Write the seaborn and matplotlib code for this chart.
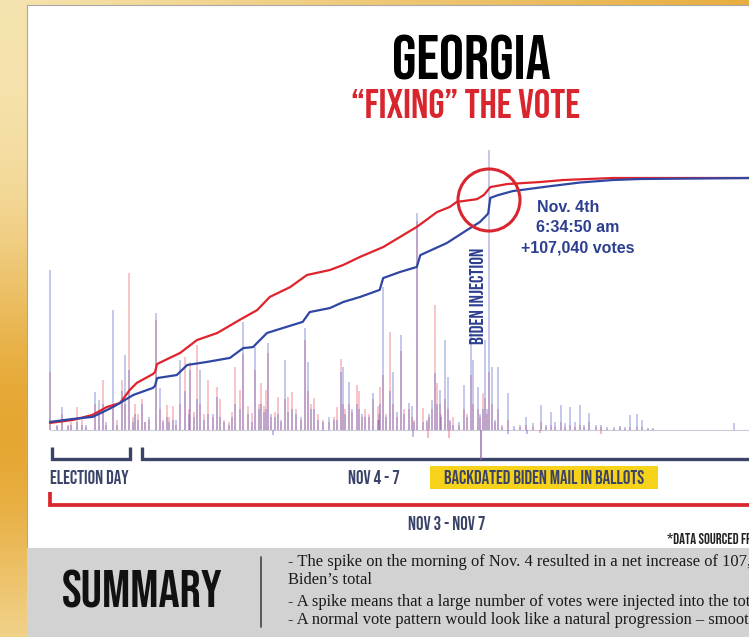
import numpy as np
import matplotlib
matplotlib.use('Agg')
import matplotlib.pyplot as plt
import seaborn as sns
from matplotlib import font_manager as fm
from matplotlib.patches import Rectangle, Circle
from matplotlib.lines import Line2D

# --- data ------------------------------------------------------------------
# x = batch index (0..100), cumulative share of each candidate's final count (%)
red_t = [0, 3.3, 6.1, 8.1, 10, 11.4, 12.4, 14.7, 15.0, 15.3, 18.6, 21, 23.9, 27.1, 29.6, 31.4,
         34.3, 36.7, 40, 41.9, 44.3, 47.6, 50, 52.4, 55.3, 57.1, 58.1, 61, 62.0, 62.9, 65.3,
         70, 73.3, 80.4, 99.9]
red_share = [2.8, 4.0, 6.0, 9.1, 10.7, 15.9, 18.7, 22.2, 23.0, 26.2, 30.6, 35.7, 38.5, 43.7, 47.6, 52.8,
             56.7, 61.5, 63.5, 65.5, 68.7, 72.6, 76.6, 80.6, 86.5, 88.5, 90.5, 91.6, 93.3, 96.4, 97.6,
             98.4, 99.2, 100, 100]
blue_t = [0, 3.3, 6.1, 9, 11.9, 14.7, 15.0, 15.3, 18.1, 19.6, 22.4, 25.7, 27.6, 29, 31, 33.3, 36.1,
          37.1, 40, 41.9, 44.3, 47.1, 47.6, 50, 52.4, 52.9, 56.7, 59.6, 61.4, 62.4, 62.6, 62.9,
          64, 66.1, 71, 75.7, 80.4, 84.3, 99.9]
blue_share = [3.2, 4.4, 5.2, 9.1, 13.9, 16.7, 17.5, 20.6, 21.8, 25.8, 27.0, 28.6, 32.5, 32.9, 38.5, 40.5,
              42.9, 46.8, 48.4, 50.8, 52.8, 55.6, 60.3, 62.7, 64.7, 69.4, 74.2, 79.4, 82.5, 85.3, 86.0,
              92.1, 93.2, 94.8, 96.6, 98.2, 99.2, 99.6, 100]

# votes per reported batch (thousands): position, Biden, Trump
batch_t = [0, 1.7, 3.9, 4.6, 6.4, 7.0, 7.6, 9.0, 10.3, 10.7, 11.3, 12.1, 13.1, 15.1, 15.7, 16.7,
           17.6, 18.6, 19.3, 20.0, 21.0, 21.4, 22.6, 23.9, 24.3, 26.4, 27.1, 27.6, 28.9, 29.3,
           30.1, 30.9, 31.1, 32.6, 33.6, 34.0, 34.6, 36.4, 36.9, 37.7, 41.0, 41.6, 41.9, 42.7,
           43.9, 44.1, 45.0, 46.1, 46.9, 47.1, 47.6, 48.6, 49.0, 50.1, 51.3, 51.7, 52.4, 53.3,
           54.6, 55.0, 55.3, 55.7, 56.4, 56.9, 57.6, 59.1, 60.1, 60.4, 61.1, 61.9, 62.1, 62.7,
           63.1, 64.0, 65.4, 68.0, 70.1, 71.6, 73.0, 74.3, 75.7, 77.0, 78.7, 81.4, 82.9, 83.9,
           84.6, 97.7]
batch_biden = [61, 8.8, 3, 2, 14.5, 11.5, 10, 46, 15, 28.7, 23, 6, 10, 44.7, 16, 5,
               4, 26.7, 15, 22.9, 12, 23, 6, 12.6, 5, 10, 8, 41.3, 3, 31.7,
               10, 8, 33.2, 6, 26.7, 7, 8, 39, 26, 8, 4, 22, 24, 18.3,
               10, 8, 5, 14.1, 4, 10, 54.6, 15, 22, 36.3, 10.3, 9, 83, 3,
               11.5, 21.8, 10, 15.3, 34.4, 20.3, 2, 17.2, 37, 26.7, 16.4, 8, 34.4, 107,
               24, 24, 14.1, 5, 9.6, 6.9, 9.6, 8.8, 9.6, 6.5, 1.9, 1.5, 5.7, 6,
               3.8, 2.5]
batch_trump = [22, 6, 8.8, 5, 10, 6, 19, 8, 19, 10, 60, 10, 12, 42, 8, 9.6,
               9, 10, 27.9, 26, 32.5, 10, 19, 16.4, 12, 24, 15.3, 29, 6.5, 23,
               18, 15.3, 29.4, 12.6, 12, 12.6, 14.5, 34.4, 15, 12.2, 8.8, 27, 10, 10,
               17.2, 15, 8, 12, 9, 16.4, 21, 37.4, 10, 30, 8, 5, 80, 8.4,
               8, 47.8, 18, 10, 12, 8, 5, 8, 21, 10, 8, 14.1, 12.2, 22,
               10, 8, 4, 2, 3, 2, 3, 2, 2, 3, 1, 1, 1, 1,
               1, 0]

# small batches near the baseline
small_t = [1.0, 2.5, 3.0, 5.2, 8.0, 9.6, 11.8, 12.6, 13.6, 14.2, 16.2, 17.0, 18.0, 19.8, 20.6,
           22.0, 23.3, 24.8, 25.5, 26.0, 28.3, 29.8, 30.5, 31.6, 32.2, 33.0, 35.2, 35.8, 37.3,
           38.3, 39.0, 39.8, 40.6, 42.2, 43.2, 44.6, 45.6, 47.0, 48.0, 49.5, 50.6, 52.0, 53.8,
           54.2, 55.9, 57.2, 58.4, 59.6, 61.4, 62.4, 63.6, 64.6, 66.3, 67.2, 69.0, 70.8, 72.2,
           73.6, 75.0, 76.3, 78.0, 79.6, 80.5, 82.2, 85.4, 86.2]
small_biden = [2, 1.5, 2, 2, 3, 2, 3, 4, 3, 5, 4, 3, 4, 6, 5,
               4, 6, 3, 2, 5, 6, 8, 7, 6, 5, 4, 6, 5, 8,
               4, 3, 5, 4, 6, 8, 6, 5, 6, 5, 7, 6, 3, 4,
               6, 5, 4, 3, 5, 6, 8, 4, 2, 1.5, 2, 2.5, 2, 3,
               2.5, 3, 2, 2, 1, 1, 1, 0.8, 0.8]
small_trump = [1.5, 2, 3, 1, 2, 4, 5, 6, 3, 4, 3, 5, 2, 8, 7,
               6, 5, 4, 3, 7, 9, 10, 9, 5, 7, 3, 8, 4, 10,
               6, 4, 3, 5, 8, 7, 5, 6, 4, 6, 5, 8, 4, 3,
               5, 6, 3, 2, 6, 5, 6, 3, 1, 0.5, 1, 1, 1, 1,
               1, 1, 1, 1, 0.5, 0.5, 0.5, 0.3, 0.3]

# batches that lowered a count
neg_t = [31.9, 51.9, 54.0, 57.0, 61.6, 65.4, 68.1, 70.0, 78.7]
neg_biden = [-1.9, -2.7, 0, 0, -11.5, -1.5, -1.5, 0, 0]
neg_trump = [0, 0, -3, -3, -11.5, 0, 0, -1, -1.5]

# --- fonts -----------------------------------------------------------------
names = {f.name for f in fm.fontManager.ttflist}
def pick(*cands):
    for c in cands:
        if c in names:
            return c
    return 'DejaVu Sans'
COND = pick('Bebas Neue', 'League Gothic', 'Oswald', 'Antonio', 'Fjalla One', 'Roboto Condensed')
SANS = pick('Liberation Sans', 'Arimo', 'DejaVu Sans')
SERIF = pick('Liberation Serif', 'Tinos', 'DejaVu Serif')

RED = '#d9252d'
NAVY = '#2d3f8f'
DARK = '#3a4468'

sns.set_style('white')

fig = plt.figure(figsize=(7.49, 6.37), dpi=100)

# canvas in pixel coordinates for the poster decoration
cv = fig.add_axes([0, 0, 1, 1], zorder=0)
cv.set_xlim(0, 749)
cv.set_ylim(637, 0)
cv.axis('off')

yy, xx = np.mgrid[0:637, 0:749]
cream = np.array([246, 228, 176]) / 255
gold = np.array([229, 164, 44]) / 255
v_left = np.exp(-((yy - 430) / 190.0) ** 2) * 0.95
v_top = np.clip(xx / 749.0, 0, 1) * 0.85
v = np.where(xx < 27, v_left, v_top)[..., None]
cv.imshow(cream * (1 - v) + gold * v, extent=(0, 749, 637, 0), aspect='auto', zorder=0)

cv.add_patch(Rectangle((27, 5), 760, 543, facecolor='white', edgecolor='#a8a8a8', lw=0.8, zorder=1))
cv.add_patch(Rectangle((27, 548), 760, 100, facecolor='#d2d2d2', edgecolor='none', zorder=1))

# title
cv.text(471, 57, 'GEORGIA', family=COND, fontsize=45, color='black', ha='center', va='center', zorder=3)
cv.text(466, 104, '“FIXING” THE VOTE', family=COND, fontsize=29.5, color=RED, ha='center', va='center', zorder=3)

# brackets
def bracket(x0, x1, y_top, y_bot, color, lw):
    cv.add_line(Line2D([x0, x0, x1, x1], [y_top, y_bot, y_bot, y_top], color=color, lw=lw,
                       solid_joinstyle='miter', solid_capstyle='butt', zorder=3))

bracket(52, 130, 447, 459, DARK, 2.4)
bracket(142, 800, 447, 459, DARK, 2.4)
bracket(50, 800, 492, 505, RED, 2.7)

cv.text(50, 477, 'ELECTION DAY', family=COND, fontsize=13.5, color=DARK, ha='left', va='center', zorder=3)
cv.text(374, 477, 'NOV 4 - 7', family=COND, fontsize=13.5, color=DARK, ha='center', va='center', zorder=3)
cv.add_patch(Rectangle((430, 466), 228, 23, facecolor='#f6d21a', edgecolor='none', zorder=2))
cv.text(544, 477.5, 'BACKDATED BIDEN MAIL IN BALLOTS', family=COND, fontsize=13.5, color=DARK,
        ha='center', va='center', zorder=3)
cv.text(447, 523, 'NOV 3 - NOV 7', family=COND, fontsize=13.5, color=DARK, ha='center', va='center', zorder=3)
cv.text(667, 538, '*DATA SOURCED FROM THE NEW YORK TIMES', family=COND, fontsize=10.5, color='#222222',
        ha='left', va='center', zorder=3)

# summary band
cv.text(62, 589, 'SUMMARY', family=COND, fontsize=38, color='#111111', ha='left', va='center', zorder=3)
cv.add_line(Line2D([261, 261], [557, 627], color='#444444', lw=1.2, zorder=3))
summary = ['- The spike on the morning of Nov. 4 resulted in a net increase of 107,040 votes to',
           'Biden’s total',
           '- A spike means that a large number of votes were injected into the total at once',
           '- A normal vote pattern would look like a natural progression – smooth and steady']
for txt, yline in zip(summary, [562, 580, 602, 620]):
    cv.text(288, yline, txt, family=SERIF, fontsize=11.9, color='#1a1a1a', ha='left', va='center', zorder=3)

# --- chart -----------------------------------------------------------------
ax = fig.add_axes([47 / 749, 1 - 465 / 637, 702 / 749, 320 / 637], zorder=2)
ax.patch.set_visible(False)
ax.set_xlim(-3 / 7, 699 / 7)
ax.set_ylim(-35 / 2.617, 285 / 2.617)
ax.axis('off')

ax.hlines(0, 0, 99.9, color='#c9c9d8', lw=0.8, zorder=1)
bar_blue = '#5866c8'
bar_red = '#ec5a68'
ax.vlines(small_t, 0, small_trump, color=bar_red, alpha=0.45, lw=1.1, zorder=2)
ax.vlines(small_t, 0, small_biden, color=bar_blue, alpha=0.45, lw=1.1, zorder=2)
ax.vlines(batch_t, 0, batch_trump, color=bar_red, alpha=0.45, lw=1.1, zorder=2)
ax.vlines(batch_t, 0, batch_biden, color=bar_blue, alpha=0.45, lw=1.1, zorder=2)
ax.vlines(neg_t, 0, neg_trump, color=bar_red, alpha=0.55, lw=1.1, zorder=2)
ax.vlines(neg_t, 0, neg_biden, color=bar_blue, alpha=0.55, lw=1.1, zorder=2)

ax2 = ax.twinx()
ax2.set_ylim(-35 / 2.52, 285 / 2.52)
ax2.axis('off')
sns.lineplot(x=red_t, y=red_share, ax=ax2, color='#e0232b', lw=1.6, sort=False, estimator=None)
sns.lineplot(x=blue_t, y=blue_share, ax=ax2, color='#2f47a3', lw=1.6, sort=False, estimator=None)

# annotation layer on top of the chart
top = fig.add_axes([0, 0, 1, 1], zorder=3)
top.set_xlim(0, 749)
top.set_ylim(637, 0)
top.axis('off')
top.patch.set_visible(False)
top.add_patch(Circle((489, 200), 31, facecolor='none', edgecolor=RED, lw=2.2))
top.text(537, 208, 'Nov. 4th', family=SANS, weight='bold', fontsize=11.5, color=NAVY, ha='left', va='center')
top.text(536, 228, '6:34:50 am', family=SANS, weight='bold', fontsize=11.5, color=NAVY, ha='left', va='center')
top.text(521, 248, '+107,040 votes', family=SANS, weight='bold', fontsize=11.5, color=NAVY, ha='left', va='center')
top.text(477, 296, 'BIDEN INJECTION', family=COND, fontsize=14, color=NAVY, rotation=90,
         ha='center', va='center')

fig.savefig('out.png', dpi=100)
